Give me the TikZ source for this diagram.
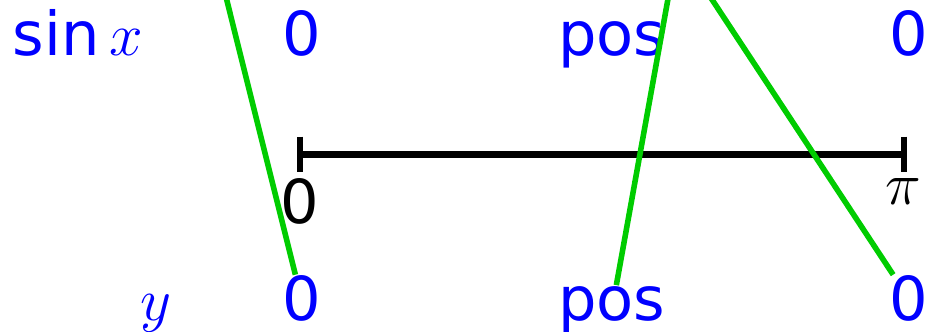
\documentclass[tikz,border=0pt]{standalone}
\usepackage{fontspec}
\setmainfont{DejaVu Sans}
\definecolor{signgreen}{RGB}{0,204,0}
\begin{document}
\begin{tikzpicture}[every node/.style={font=\fontsize{25}{30}\selectfont},
    val/.style={text=blue, anchor=base, inner xsep=0pt, inner ysep=0.5pt},
    axislbl/.style={below, inner sep=2.5pt},
    link/.style={signgreen, line width=2.3pt}]
        \useasboundingbox (0,0) rectangle (13.41,4.81);
        \clip (0,0) rectangle (13.41,4.81);
        % rows of signs
        \node[val] (f-lbl) at (1.13,4.01) {$\sin x$};
        \node[val] (y-lbl) at (2.26,0.16) {$y$};
        \foreach \nm/\xx/\txt/\hgt in {a/4.37/0/18.3pt, b/8.87/pos/14pt, c/13.18/0/18.3pt} {
            \node[val, text height=\hgt] (f-\nm) at (\xx,4.01) {\txt};
            \node[val, text height=\hgt] (y-\nm) at (\xx,0.16) {\txt};
        }
        % the interval
        \coordinate (ax-l) at (4.35,2.57);
        \coordinate (ax-r) at (13.10,2.57);
        \draw[line width=2.5pt] (ax-l) -- (ax-r);
        \foreach \pt in {ax-l, ax-r}
            \draw[line width=2.5pt] (\pt) ++(0,0.26) -- ++(0,-0.52);
        \node[axislbl] (lbl-0) at ([yshift=-0.26cm]ax-l) {0};
        \node[axislbl] (lbl-pi) at ([yshift=-0.26cm]ax-r) {$\pi$};
        % links from above
        \coordinate (src-a) at (3.07,5.68);
        \coordinate (src-b) at (9.82,5.58);
        \draw[link] (src-a) -- (y-a);
        \draw[link] (src-b) -- (y-b);
        \draw[link] (src-b) -- (y-c);
    \end{tikzpicture}
\end{document}
